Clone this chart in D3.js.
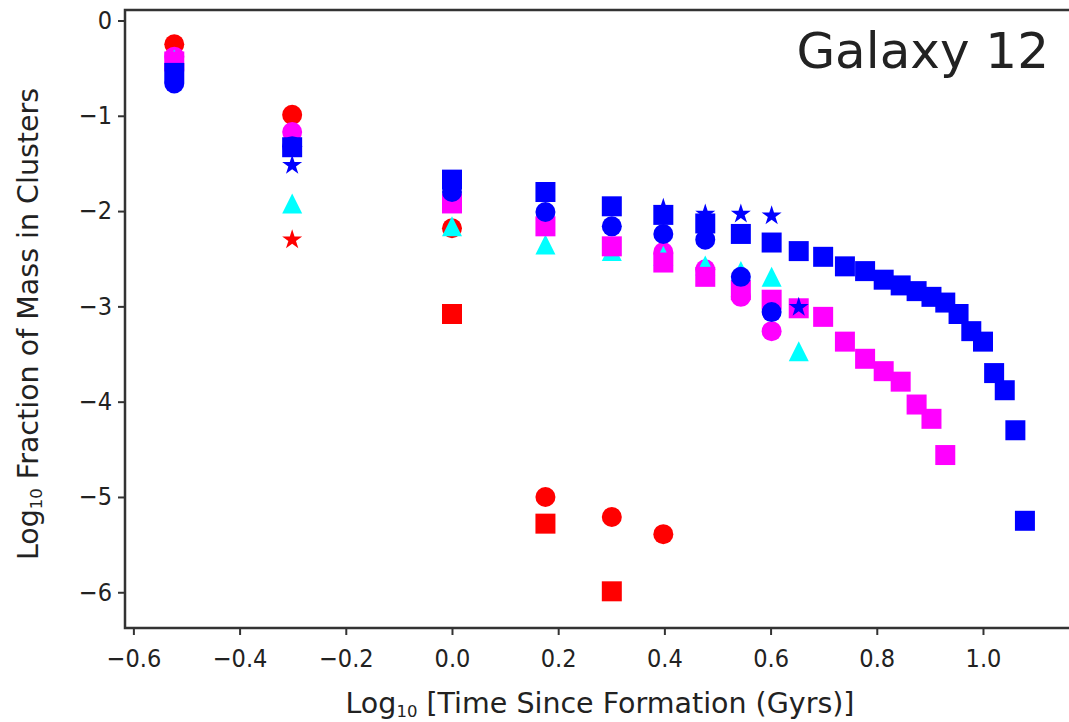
<!DOCTYPE html>
<html>
<head>
<meta charset="utf-8">
<script src="https://cdn.jsdelivr.net/npm/d3@7"></script>
<style>
  body { margin: 0; background: #fff; }
  svg { display: block; }
  text { font-family: "DejaVu Sans", sans-serif; fill: #222; }
  .xt text { transform-box: fill-box; transform-origin: center; transform: scale(0.92, 1); }
  .yt text { transform-box: fill-box; transform-origin: right center; transform: scale(0.92, 1); }
</style>
</head>
<body>
<div id="chart"></div>
<script>
// values: [log10 time, log10 mass fraction]
var redCircles = [[-0.523, -0.25], [-0.301, -0.99], [0, -2.18], [0.176, -5.0], [0.301, -5.21], [0.398, -5.39]];
var redSquares = [[0, -3.08], [0.176, -5.28], [0.301, -5.99]];
var redStars = [[-0.301, -2.30]];
var magentaCircles = [[-0.523, -0.38], [-0.301, -1.17], [0, -1.88], [0.398, -2.43], [0.477, -2.61],
                      [0.544, -2.90], [0.602, -3.26]];
var cyanTriangles = [[-0.523, -0.41], [-0.301, -1.92], [0, -2.16], [0.176, -2.35], [0.301, -2.42],
                     [0.398, -2.47], [0.477, -2.57], [0.544, -2.63], [0.602, -2.69], [0.653, -3.47]];
var magentaSquares = [[-0.523, -0.43], [0, -1.92], [0.176, -2.16], [0.301, -2.37], [0.398, -2.54],
                      [0.477, -2.69], [0.544, -2.83], [0.602, -2.93], [0.653, -3.02], [0.699, -3.11],
                      [0.740, -3.37], [0.778, -3.55], [0.813, -3.68], [0.845, -3.79], [0.875, -4.03],
                      [0.903, -4.18], [0.929, -4.56]];
var blueCircles = [[-0.523, -0.66], [-0.301, -1.32], [0, -1.80], [0.176, -2.01], [0.301, -2.16],
                   [0.398, -2.24], [0.477, -2.30], [0.544, -2.69], [0.602, -3.06]];
var blueSquares = [[-0.523, -0.55], [-0.301, -1.33], [0, -1.67], [0.176, -1.80], [0.301, -1.95],
                   [0.398, -2.04], [0.477, -2.13], [0.544, -2.24], [0.602, -2.33], [0.653, -2.42],
                   [0.699, -2.48], [0.740, -2.58], [0.778, -2.63], [0.813, -2.72], [0.845, -2.78],
                   [0.875, -2.84], [0.903, -2.90], [0.929, -2.96], [0.954, -3.08], [0.978, -3.26],
                   [1.0, -3.37], [1.021, -3.70], [1.041, -3.88], [1.061, -4.30], [1.079, -5.25]];
var blueStars = [[-0.301, -1.52], [0.398, -1.97], [0.477, -2.03], [0.544, -2.03], [0.602, -2.05], [0.653, -3.01]];

var xTicks = [-0.6, -0.4, -0.2, 0.0, 0.2, 0.4, 0.6, 0.8, 1.0];
var yTicks = [0, -1, -2, -3, -4, -5, -6];

var W = 1069, H = 722;
var plot = {left: 125, right: 1075, top: 10, bottom: 628};

var x = d3.scaleLinear().domain([-0.6158, 1.1733]).range([plot.left, plot.right]);
var y = d3.scaleLinear().domain([0.110, -6.375]).range([plot.top, plot.bottom]);

var svg = d3.select('#chart').append('svg')
    .attr('width', W).attr('height', H);

svg.append('rect').attr('width', W).attr('height', H).attr('fill', '#fff');

// matplotlib-like marker shapes, size = full marker width in px
var mplTriangle = {
  draw: function(ctx, s) {
    var r = s / 2;
    ctx.moveTo(0, -r); ctx.lineTo(-r, r); ctx.lineTo(r, r); ctx.closePath();
  }
};
var mplStar = {
  draw: function(ctx, s) {
    var R = s / 2, ri = R * 0.381966;
    for (var i = 0; i < 10; i++) {
      var a = -Math.PI / 2 + i * Math.PI / 5;
      var rr = i % 2 ? ri : R;
      if (i === 0) ctx.moveTo(rr * Math.cos(a), rr * Math.sin(a));
      else ctx.lineTo(rr * Math.cos(a), rr * Math.sin(a));
    }
    ctx.closePath();
  }
};
var mplSquare = {
  draw: function(ctx, s) { var r = s / 2; ctx.rect(-r, -r, s, s); }
};
var mplCircle = {
  draw: function(ctx, s) { var r = s / 2; ctx.moveTo(r, 0); ctx.arc(0, 0, r, 0, 2 * Math.PI); }
};

// drawing order matters: later layers sit on top
var layers = [
  [redCircles, mplCircle, '#ff0000'],
  [redSquares, mplSquare, '#ff0000'],
  [redStars, mplStar, '#ff0000'],
  [magentaCircles, mplCircle, '#ff00ff'],
  [cyanTriangles, mplTriangle, '#00ffff'],
  [magentaSquares, mplSquare, '#ff00ff'],
  [blueCircles, mplCircle, '#0000ff'],
  [blueSquares, mplSquare, '#0000ff'],
  [blueStars, mplStar, '#0000ff']
];

var marks = svg.append('g');
layers.forEach(function(l) {
  var sym = d3.symbol().type(l[1]).size(l[1] === mplStar ? 21 : 20);
  marks.append('g').selectAll('path')
    .data(l[0])
    .enter().append('path')
      .attr('transform', function(d) { return 'translate(' + x(d[0]) + ',' + y(d[1]) + ')'; })
      .attr('d', sym)
      .attr('fill', l[2]);
});

// axes
var xAxis = svg.append('g').attr('class', 'xt')
    .attr('transform', 'translate(0,' + plot.bottom + ')')
    .call(d3.axisBottom(x).tickValues(xTicks).tickFormat(d3.format('.1f')).tickSize(7).tickPadding(15).tickSizeOuter(0));
var yAxis = svg.append('g').attr('class', 'yt')
    .attr('transform', 'translate(' + plot.left + ',0)')
    .call(d3.axisLeft(y).tickValues(yTicks).tickFormat(d3.format('d')).tickSize(7).tickPadding(6).tickSizeOuter(0));

[xAxis, yAxis].forEach(function(a) {
  a.select('.domain').remove();
  a.selectAll('.tick line').attr('stroke', '#333').attr('stroke-width', 2);
  a.selectAll('.tick text').attr('font-size', 24.5).attr('fill', '#222')
    .attr('font-family', '"DejaVu Sans", sans-serif');
});

// spines: left, bottom, top (right one falls outside the picture)
svg.append('path')
  .attr('d', 'M' + plot.right + ',' + plot.top + 'H' + plot.left + 'V' + plot.bottom + 'H' + plot.right)
  .attr('fill', 'none').attr('stroke', '#333').attr('stroke-width', 2.5);

// axis labels
var xl = svg.append('text')
  .attr('x', 600).attr('y', 713)
  .attr('text-anchor', 'middle').attr('font-size', 28.5);
xl.append('tspan').text('Log');
xl.append('tspan').attr('font-size', 16.5).attr('dy', 4).text('10');
xl.append('tspan').attr('dy', -4).text(' [Time Since Formation (Gyrs)]');

var yl = svg.append('text')
  .attr('transform', 'translate(38,324) rotate(-90)')
  .attr('text-anchor', 'middle').attr('font-size', 28.5);
yl.append('tspan').text('Log');
yl.append('tspan').attr('font-size', 16.5).attr('dy', 4).text('10');
yl.append('tspan').attr('dy', -4).text(' Fraction of Mass in Clusters');

svg.append('text')
  .attr('x', 1049).attr('y', 68)
  .attr('text-anchor', 'end').attr('font-size', 50).attr('fill', '#111')
  .text('Galaxy 12');
</script>
</body>
</html>
